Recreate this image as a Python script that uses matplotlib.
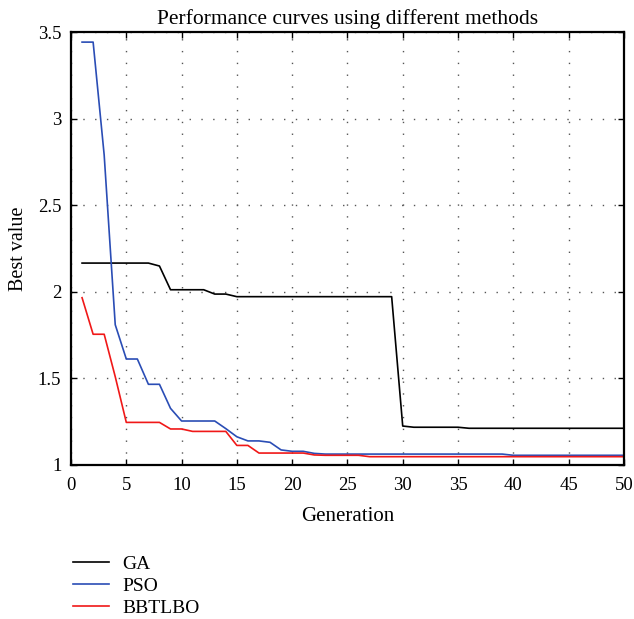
import matplotlib
matplotlib.use("Agg")
import matplotlib.pyplot as plt
from matplotlib.ticker import FuncFormatter
from matplotlib.lines import Line2D

generations = list(range(1, 51))

ga = [2.166, 2.166, 2.166, 2.166, 2.166, 2.166, 2.166, 2.149, 2.012, 2.012,
      2.012, 2.012, 1.987, 1.987, 1.972, 1.972, 1.972, 1.972, 1.972, 1.972,
      1.972, 1.972, 1.972, 1.972, 1.972, 1.972, 1.972, 1.972, 1.972, 1.225,
      1.218, 1.218, 1.218, 1.218, 1.218, 1.212, 1.212, 1.212, 1.212, 1.212,
      1.212, 1.212, 1.212, 1.212, 1.212, 1.212, 1.212, 1.212, 1.212, 1.212]

pso = [3.442, 3.442, 2.79, 1.81, 1.612, 1.612, 1.466, 1.466, 1.327, 1.254,
       1.254, 1.254, 1.254, 1.21, 1.163, 1.139, 1.139, 1.131, 1.087, 1.079,
       1.079, 1.067, 1.063, 1.063, 1.063, 1.063, 1.063, 1.063, 1.063, 1.063,
       1.063, 1.063, 1.063, 1.063, 1.063, 1.063, 1.063, 1.063, 1.063, 1.056,
       1.056, 1.056, 1.056, 1.056, 1.056, 1.056, 1.056, 1.056, 1.056, 1.056]

bbtlbo = [1.966, 1.755, 1.755, 1.51, 1.246, 1.246, 1.246, 1.246, 1.208, 1.208,
          1.194, 1.194, 1.194, 1.194, 1.113, 1.113, 1.069, 1.069, 1.069, 1.069,
          1.069, 1.058, 1.056, 1.056, 1.056, 1.056, 1.048, 1.048, 1.048, 1.048,
          1.048, 1.048, 1.048, 1.048, 1.048, 1.048, 1.048, 1.048, 1.048, 1.048,
          1.048, 1.048, 1.048, 1.048, 1.048, 1.048, 1.048, 1.048, 1.048, 1.048]

series_names = ["GA", "PSO", "BBTLBO"]
series_colors = ["#000000", "#2a4db5", "#f01818"]

x_ticks = list(range(0, 51, 5))
y_ticks = [1, 1.5, 2, 2.5, 3, 3.5]

plt.rcParams['font.family'] = ['Liberation Serif', 'DejaVu Serif']

fig = plt.figure(figsize=(6.34, 6.19), dpi=100)
ax = fig.add_axes([0.112, 0.2488, 0.872, 0.6994])

for vals, name, col in zip([ga, pso, bbtlbo], series_names, series_colors):
    ax.plot(generations, vals, color=col, linewidth=1.2, label=name)

ax.set_xlim(0, 50)
ax.set_ylim(1, 3.5)
ax.set_xticks(x_ticks)
ax.set_yticks(y_ticks)
ax.yaxis.set_major_formatter(FuncFormatter(lambda v, p: "%g" % v))
ax.tick_params(direction='in', top=True, right=True, length=4, width=1,
               labelsize=13.5)
ax.tick_params(axis='x', pad=9)
ax.tick_params(axis='y', pad=7)
for s in ax.spines.values():
    s.set_linewidth(1.6)
ax.grid(True, color='#555555', linewidth=1.0, linestyle=(0, (1, 7.5)))

ax.set_title("Performance curves using different methods", fontsize=15.5, pad=6)
ax.set_xlabel("Generation", fontsize=15, labelpad=9)
ax.set_ylabel("Best value", fontsize=14.5, labelpad=7)

handles = [Line2D([], [], color=c, linewidth=1.2) for c in series_colors]
fig.legend(handles, series_names, loc='upper left',
           bbox_to_anchor=(0.1025, 0.115), frameon=False, fontsize=14,
           handlelength=1.85, handletextpad=0.72, labelspacing=0.22,
           borderaxespad=0)

fig.savefig("out.png", dpi=100)
